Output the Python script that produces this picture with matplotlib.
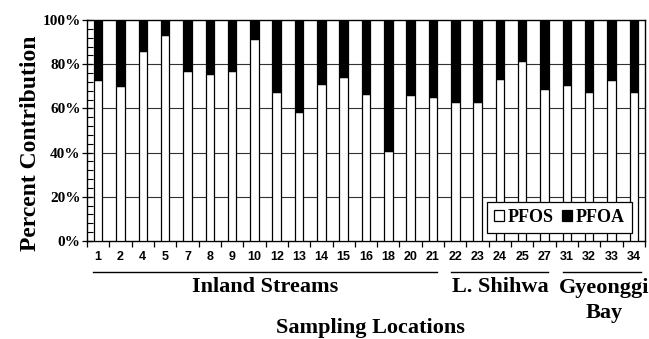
import numpy as np
import matplotlib
matplotlib.use("Agg")
import matplotlib.pyplot as plt
from matplotlib.patches import Patch
from matplotlib.lines import Line2D
from matplotlib.ticker import MultipleLocator, FixedLocator
from matplotlib.transforms import blended_transform_factory

# ---- data ----
locations = ["1", "2", "4", "5", "7", "8", "9", "10", "12", "13", "14", "15", "16",
             "18", "20", "21", "22", "23", "24", "25", "27", "31", "32", "33", "34"]
pfos = [73, 70, 86, 93, 76.7, 75.5, 77, 91.3, 67.6, 58.4, 71.1, 74.2, 66.7,
        40.8, 66.1, 65.1, 62.7, 63, 73.3, 81.5, 68.8, 70.6, 67.6, 72.9, 67.6]
pfoa = [100 - v for v in pfos]
groups = ["Inland Streams", "L. Shihwa", "Gyeonggi"]
group_sizes = [16, 5, 4]
yticks = [0, 20, 40, 60, 80, 100]
ytick_labels = ["0%", "20%", "40%", "60%", "80%", "100%"]

serif = "Liberation Serif"
sans = "Liberation Sans"

fig = plt.figure(figsize=(6.49, 3.39), dpi=100)
ax = fig.add_axes([87/649, 1 - 241/339, 558/649, 221/339])

x = np.arange(len(locations))
w = 0.38
ax.bar(x, pfos, width=w, color="white", edgecolor="black", linewidth=0.9, zorder=3)
ax.bar(x, pfoa, bottom=pfos, width=w, color="black", edgecolor="black", linewidth=0.9, zorder=3)

ax.set_xlim(-0.5, len(locations) - 0.5)
ax.set_ylim(0, 100)

# grid
for g in [20, 40, 60, 80]:
    ax.axhline(g, color="#333333", linewidth=0.8, zorder=1)

# y ticks
ax.set_yticks(yticks)
ax.set_yticklabels(ytick_labels, fontfamily=serif, fontweight="bold", fontsize=11)
ax.yaxis.set_minor_locator(MultipleLocator(4))
ax.tick_params(axis="y", which="major", direction="inout", length=7, width=0.9, pad=1)
ax.tick_params(axis="y", which="minor", direction="in", length=4, width=0.8)

# x ticks: labels at centres, tick marks at boundaries
ax.set_xticks(x)
ax.set_xticklabels(locations, fontfamily=sans, fontweight="bold", fontsize=9)
ax.tick_params(axis="x", which="major", length=0, pad=7.5)
ax.xaxis.set_minor_locator(FixedLocator(np.arange(-0.5, len(locations), 1.0)))
ax.tick_params(axis="x", which="minor", direction="out", length=4, width=0.9)

for s in ax.spines.values():
    s.set_linewidth(1.0)

# legend
handles = [Patch(facecolor="white", edgecolor="black", linewidth=0.9, label="PFOS"),
           Patch(facecolor="black", edgecolor="black", linewidth=0.9, label="PFOA")]
leg = ax.legend(handles=handles, loc="lower right", bbox_to_anchor=(0.977, 0.036),
                ncol=2, frameon=True, fancybox=False, framealpha=1, edgecolor="black",
                prop={"family": serif, "weight": "bold", "size": 13},
                handlelength=0.55, handleheight=0.55, handletextpad=0.2,
                columnspacing=0.5, borderpad=0.4, borderaxespad=0)
leg.get_frame().set_linewidth(0.9)
leg.set_zorder(5)

# group lines and labels
tr = blended_transform_factory(ax.transData, ax.transAxes)
line_y = (241 - 271.7) / 221
text_y = (241 - 292.5) / 221
start = 0
line_pads = [(0.25, 0.32), (0.33, 0.36), (0.33, 0.2)]
centers_shift = [0.0, 0.0, 0.15]
for name, n, (pl, pr), sh in zip(groups, group_sizes, line_pads, centers_shift):
    a, b = start - 0.5 + pl, start + n - 0.5 - pr
    ax.add_line(Line2D([a, b], [line_y, line_y], transform=tr, color="black",
                       linewidth=1.0, clip_on=False))
    cx = start + (n - 1) / 2 + sh
    ax.text(cx, text_y, name, transform=tr, ha="center", va="baseline",
            fontfamily=serif, fontweight="bold", fontsize=16)
    start += n
ax.text(22.65, (241 - 318) / 221, "Bay", transform=tr, ha="center", va="baseline",
        fontfamily=serif, fontweight="bold", fontsize=16)

fig.text(370/649, 1.0/339, "Sampling Locations", ha="center", va="bottom",
         fontfamily=serif, fontweight="bold", fontsize=16)
fig.text(31/649, 1 - 143.5/339, "Percent Contribution", ha="center", va="center",
         rotation=90, fontfamily=serif, fontweight="bold", fontsize=17)

fig.savefig("out.png", dpi=100)
